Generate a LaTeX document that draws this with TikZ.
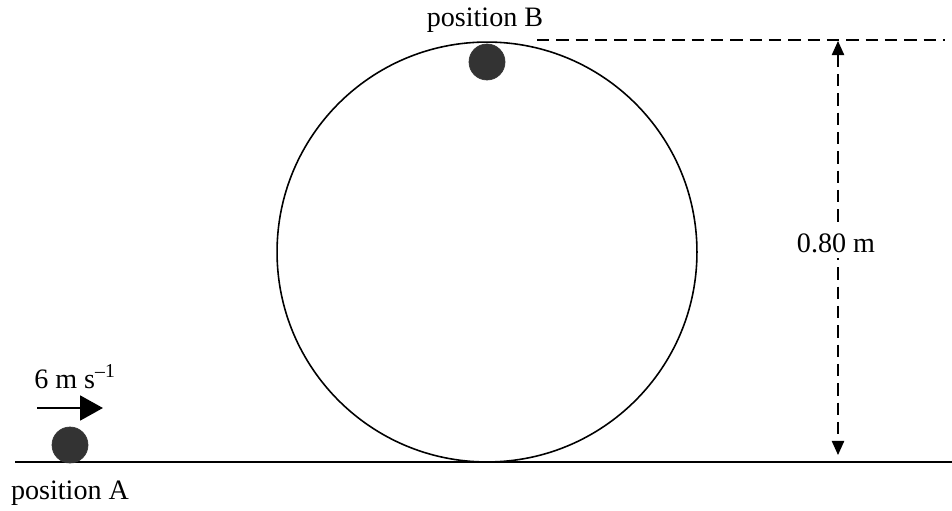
\documentclass[tikz,border=0pt]{standalone}
\usepackage{fontspec}
\setmainfont{Liberation Serif}
\usetikzlibrary{arrows.meta}
\begin{document}
\begin{tikzpicture}[x=0.02cm,y=-0.02cm,
  lbl/.style={font=\fontsize{16}{18}\selectfont, inner sep=1pt},
  ball/.style={circle, fill=black!80, draw=black!80, minimum size=0.72cm, inner sep=0pt},
  loopc/.style={circle, draw=black, line width=0.9pt, minimum size=8.4cm, inner sep=0pt},
  dsh/.style={dash pattern=on 7pt off 4pt, line width=0.8pt}]
\useasboundingbox (0,0) rectangle (952,510);
\coordinate (g1) at (15,462);
\coordinate (g2) at (952,462);
\draw[line width=1pt] (g1) -- (g2);
\node[loopc] (loop) at (487,252) {};
\node[ball] (ballA) at (70,445) {};
\node[ball] (ballB) at (487,62) {};
\node[lbl] (posA) at (70,493) {position A};
\node[lbl] (posB) at (485,20) {position B};
\node[lbl] (vel) at (75,377) {6 m s\textsuperscript{–1}};
\coordinate (a1) at (37,408);
\coordinate (a2) at (103,408);
\draw[line width=1.6pt,-{Triangle[length=13pt,width=14pt]}] (a1) -- (a2);
\coordinate (d1) at (537,40);
\coordinate (d2) at (945,40);
\draw[dsh] (d1) -- (d2);
\coordinate (v1) at (838,41);
\coordinate (v2) at (838,455);
\draw[dsh,{Triangle[length=8pt,width=7pt]}-{Triangle[length=8pt,width=7pt]}] (v1) -- (v2);
\node[lbl, fill=white, inner sep=3pt] (h) at (836,243) {0.80 m};
\end{tikzpicture}
\end{document}
